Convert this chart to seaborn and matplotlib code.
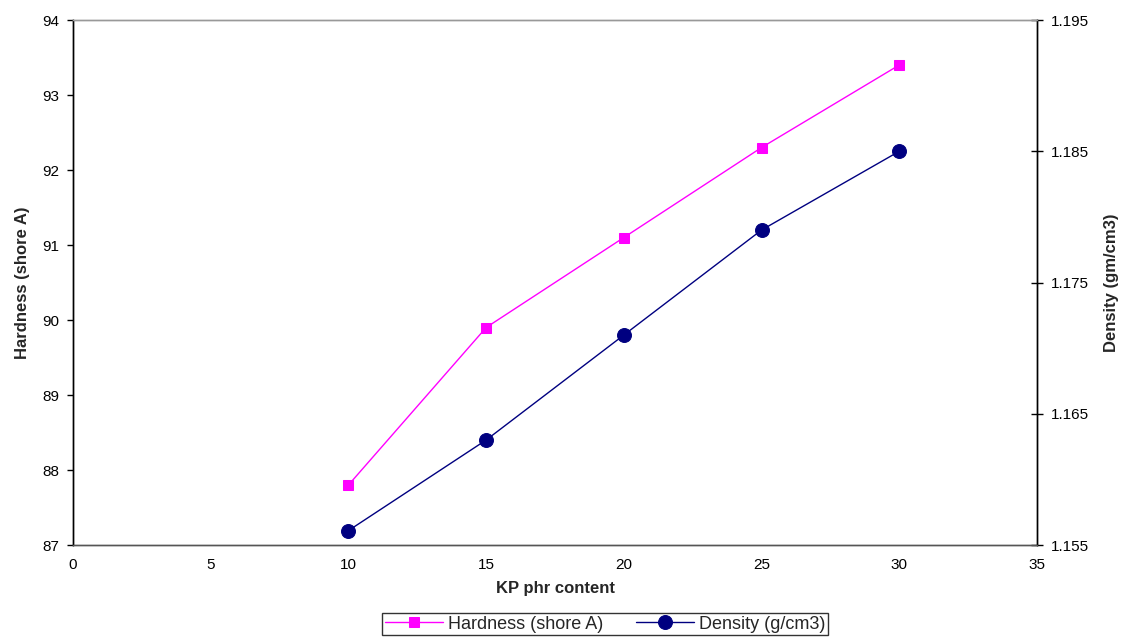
import matplotlib
matplotlib.use("Agg")
import matplotlib.pyplot as plt
import seaborn as sns

# values
kp_content = [10, 15, 20, 25, 30]
hardness = [87.8, 89.9, 91.1, 92.3, 93.4]
density = [1.1561, 1.163, 1.171, 1.179, 1.185]

sns.set_style("white")
plt.rcParams["font.family"] = ["Liberation Sans", "DejaVu Sans"]

fig = plt.figure(figsize=(11.25, 6.37), dpi=100)
ax = fig.add_axes([0.0649, 0.1444, 0.8569, 0.8242])
ax2 = ax.twinx()

sns.lineplot(x=kp_content, y=hardness, ax=ax, color="#FF00FF", marker="s",
             markersize=7, markeredgecolor="#FF00FF", linewidth=1,
             label="Hardness (shore A)", legend=False)
sns.lineplot(x=kp_content, y=density, ax=ax2, color="#000080", marker="o",
             markersize=10, markeredgecolor="#000080", linewidth=1,
             label="Density (g/cm3)", legend=False)

ax.set_xlim(0, 35)
ax.set_xticks(range(0, 36, 5))
ax.set_ylim(87, 94)
ax.set_yticks(range(87, 95))
ax2.set_ylim(1.155, 1.195)
ax2.set_yticks([1.155, 1.165, 1.175, 1.185, 1.195])
ax2.set_yticklabels(["1.155", "1.165", "1.175", "1.185", "1.195"])

ax.set_xlabel("KP phr content", fontsize=12, fontweight="bold", labelpad=7)
ax.set_ylabel("Hardness (shore A)", fontsize=12, fontweight="bold", labelpad=9)
ax2.set_ylabel("Density (gm/cm3)", fontsize=12, fontweight="bold", rotation=90, labelpad=11)

for a in (ax, ax2):
    a.tick_params(labelsize=11, length=4, width=1, colors="black", pad=6)
    a.grid(False)
    for s in a.spines.values():
        s.set_linewidth(1)
        s.set_color("black")
    a.spines["top"].set_color("#999999")
    a.spines["bottom"].set_color("#555555")
ax.tick_params(axis="x", direction="out", pad=5)
ax.tick_params(axis="y", direction="out")
ax2.tick_params(axis="y", direction="inout", length=8)

h1, l1 = ax.get_legend_handles_labels()
h2, l2 = ax2.get_legend_handles_labels()
leg = fig.legend(h1 + h2, l1 + l2, loc="center", bbox_to_anchor=(0.538, 0.0204),
                 ncol=2, fontsize=13, frameon=True, fancybox=False,
                 edgecolor="black", borderpad=0.15, handlelength=3.2,
                 columnspacing=1.8, handletextpad=0.3)
leg.get_frame().set_linewidth(1)

fig.savefig("out.png", dpi=100)
